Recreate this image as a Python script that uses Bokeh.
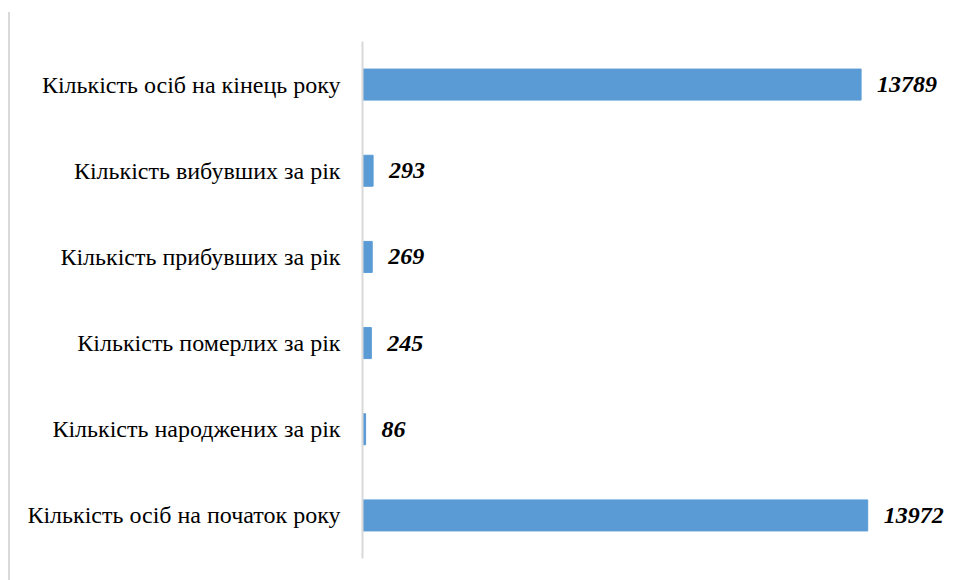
from bokeh.plotting import figure
from bokeh.models import ColumnDataSource, FactorRange, Range1d
from bokeh.core.properties import value
from bokeh.embed import file_html
from bokeh.resources import INLINE

categories = [
    "Кількість осіб на початок року",
    "Кількість народжених за рік",
    "Кількість померлих за рік",
    "Кількість прибувших за рік",
    "Кількість вибувших за рік",
    "Кількість осіб на кінець року",
]
values = [13972, 86, 245, 269, 293, 13789]
value_labels = [str(v) for v in values]

src = ColumnDataSource(dict(cat=categories, val=values, lab=value_labels))

p = figure(
    width=945, height=568,
    y_range=FactorRange(*categories, range_padding=0),
    x_range=Range1d(0, 16400),
    x_axis_location=None,
    output_backend="svg", toolbar_location=None,
    min_border_left=352, min_border_top=29, min_border_bottom=22, min_border_right=0,
)
p.styles = {"border-left": "2px solid #d9d9d9", "margin-top": "12px", "margin-left": "8px"}
p.outline_line_color = None
p.xgrid.visible = False
p.ygrid.visible = False

p.hbar(y="cat", right="val", left=0, height=0.36, color="#5b9bd5", source=src)
p.text(x="val", y="cat", text="lab", source=src, x_offset=16,
       text_align="left", text_baseline="middle",
       text_font=value("Liberation Serif"), text_font_style="bold italic",
       text_font_size="24px", text_color="#000000")

ax = p.yaxis[0]
ax.axis_line_color = "#d9d9d9"
ax.axis_line_width = 2
ax.major_tick_line_color = None
ax.minor_tick_line_color = None
ax.major_label_standoff = 16
ax.major_label_text_font = "Liberation Serif"
ax.major_label_text_font_size = "24px"
ax.major_label_text_color = "#000000"

open("out.html", "w").write(file_html(p, INLINE))
